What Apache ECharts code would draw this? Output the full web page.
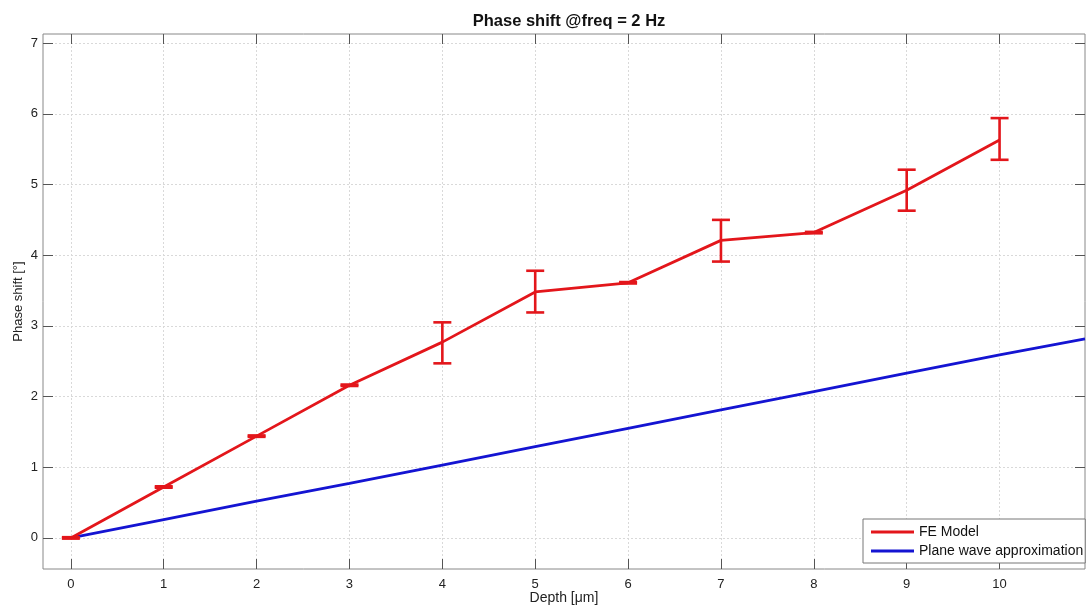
<!DOCTYPE html>
<html>
<head>
<meta charset="utf-8">
<script src="https://cdn.jsdelivr.net/npm/echarts@6/dist/echarts.min.js"></script>
<style>
  html, body { margin: 0; padding: 0; background: #fff; }
  #chart { width: 1088px; height: 608px; }
</style>
</head>
<body>
<div id="chart"></div>
<script>
// FE model: depth, mean phase shift, error bar bounds
const depth = [0, 1, 2, 3, 4, 5, 6, 7, 8, 9, 10]
const feModel = [0, 0.72, 1.44, 2.16, 2.77, 3.48, 3.61, 4.21, 4.32, 4.92, 5.63]
const feLow = [-0.01, 0.71, 1.43, 2.15, 2.47, 3.19, 3.60, 3.91, 4.31, 4.63, 5.35]
const feHigh = [0.01, 0.73, 1.45, 2.17, 3.05, 3.78, 3.62, 4.50, 4.33, 5.21, 5.94]

// plane wave approximation (straight line read at each depth, plus axis end)
const planeDepth = [0, 1, 2, 3, 4, 5, 6, 7, 8, 9, 10, 10.92]
const planeWave = [0, 0.26, 0.52, 0.77, 1.03, 1.29, 1.55, 1.81, 2.07, 2.33, 2.59, 2.815]

const xTicks = [0, 1, 2, 3, 4, 5, 6, 7, 8, 9, 10]
const yTicks = [0, 1, 2, 3, 4, 5, 6, 7]

const RED = '#e3161b'
const BLUE = '#1414d2'
const FONT = '"Liberation Sans", Arial, sans-serif'

const chart = echarts.init(document.getElementById('chart'))

const baseAxis = {
    axisLine: { show: false, onZero: false },
    axisTick: { inside: true, length: 10, lineStyle: { color: '#555', width: 1 } },
}

const option = {
    animation: false,
    title: {
        text: 'Phase shift @freq = 2 Hz',
        left: 564,
        top: 8,
        textAlign: 'center',
        textStyle: { fontFamily: FONT, fontSize: 16.5, fontWeight: 'bold', color: '#111' },
    },
    grid: {
        left: 43,
        right: 3,
        top: 34,
        bottom: 39,
        outerBoundsMode: 'none',
        containLabel: false,
        show: true,
        borderColor: '#888',
        borderWidth: 1,
        backgroundColor: '#fff',
    },
    legend: {
        data: ['FE Model', 'Plane wave approximation'],
        orient: 'vertical',
        left: 863,
        top: 519,
        padding: [5, 2, 4, 8],
        itemGap: 3,
        itemWidth: 43,
        itemHeight: 3,
        icon: 'rect',
        backgroundColor: '#fff',
        borderColor: '#777',
        borderWidth: 1,
        textStyle: { fontFamily: FONT, fontSize: 14, color: '#111', lineHeight: 16 },
    },
    xAxis: [
        {
            ...baseAxis,
            type: 'value',
            min: -0.3,
            max: 10.92,
            name: 'Depth [μm]',
            nameLocation: 'middle',
            nameGap: 22,
            nameMoveOverlap: false,
            nameTextStyle: { fontFamily: FONT, fontSize: 14, color: '#222' },
            axisTick: { ...baseAxis.axisTick, customValues: xTicks },
            axisLabel: { customValues: xTicks, margin: 9, fontFamily: FONT, fontSize: 13, color: '#222' },
            splitLine: { show: true, lineStyle: { color: '#d9d9d9', type: [2, 2], width: 1 } },
        },
        {
            ...baseAxis,
            type: 'value',
            position: 'top',
            min: -0.3,
            max: 10.92,
            axisTick: { ...baseAxis.axisTick, customValues: xTicks },
            axisLabel: { show: false },
            splitLine: { show: false },
        },
    ],
    yAxis: [
        {
            ...baseAxis,
            type: 'value',
            min: -0.44,
            max: 7.13,
            name: 'Phase shift [°]',
            nameLocation: 'middle',
            nameGap: 18,
            nameMoveOverlap: false,
            nameTextStyle: { fontFamily: FONT, fontSize: 13, color: '#222' },
            axisTick: { ...baseAxis.axisTick, customValues: yTicks },
            axisLabel: { customValues: yTicks, margin: 5, fontFamily: FONT, fontSize: 13, color: '#222' },
            splitLine: { show: true, lineStyle: { color: '#d9d9d9', type: [2, 2], width: 1 } },
        },
        {
            ...baseAxis,
            type: 'value',
            position: 'right',
            min: -0.44,
            max: 7.13,
            axisTick: { ...baseAxis.axisTick, customValues: yTicks },
            axisLabel: { show: false },
            splitLine: { show: false },
        },
    ],
    series: [
        {
            name: 'Plane wave approximation',
            type: 'line',
            data: planeDepth.map((d, i) => [d, planeWave[i]]),
            symbol: 'none',
            lineStyle: { color: BLUE, width: 2.8 },
            itemStyle: { color: BLUE },
            z: 2,
        },
        {
            name: 'FE Model',
            type: 'line',
            data: depth.map((d, i) => [d, feModel[i]]),
            symbol: 'none',
            lineStyle: { color: RED, width: 2.8 },
            itemStyle: { color: RED },
            z: 3,
        },
        {
            name: 'FE error',
            type: 'custom',
            data: depth.map((d, i) => [d, feLow[i], feHigh[i]]),
            encode: { x: 0, y: [1, 2] },
            z: 4,
            renderItem: (params, api) => {
                const x = api.value(0)
                const top = api.coord([x, api.value(2)])
                const bot = api.coord([x, api.value(1)])
                const half = 9
                const style = { stroke: RED, lineWidth: 2.6 }
                return {
                    type: 'group',
                    children: [
                        { type: 'line', shape: { x1: top[0], y1: top[1], x2: bot[0], y2: bot[1] }, style },
                        { type: 'line', shape: { x1: top[0] - half, y1: top[1], x2: top[0] + half, y2: top[1] }, style },
                        { type: 'line', shape: { x1: bot[0] - half, y1: bot[1], x2: bot[0] + half, y2: bot[1] }, style },
                    ],
                }
            },
        },
    ],
}

chart.setOption(option)
</script>
</body>
</html>
